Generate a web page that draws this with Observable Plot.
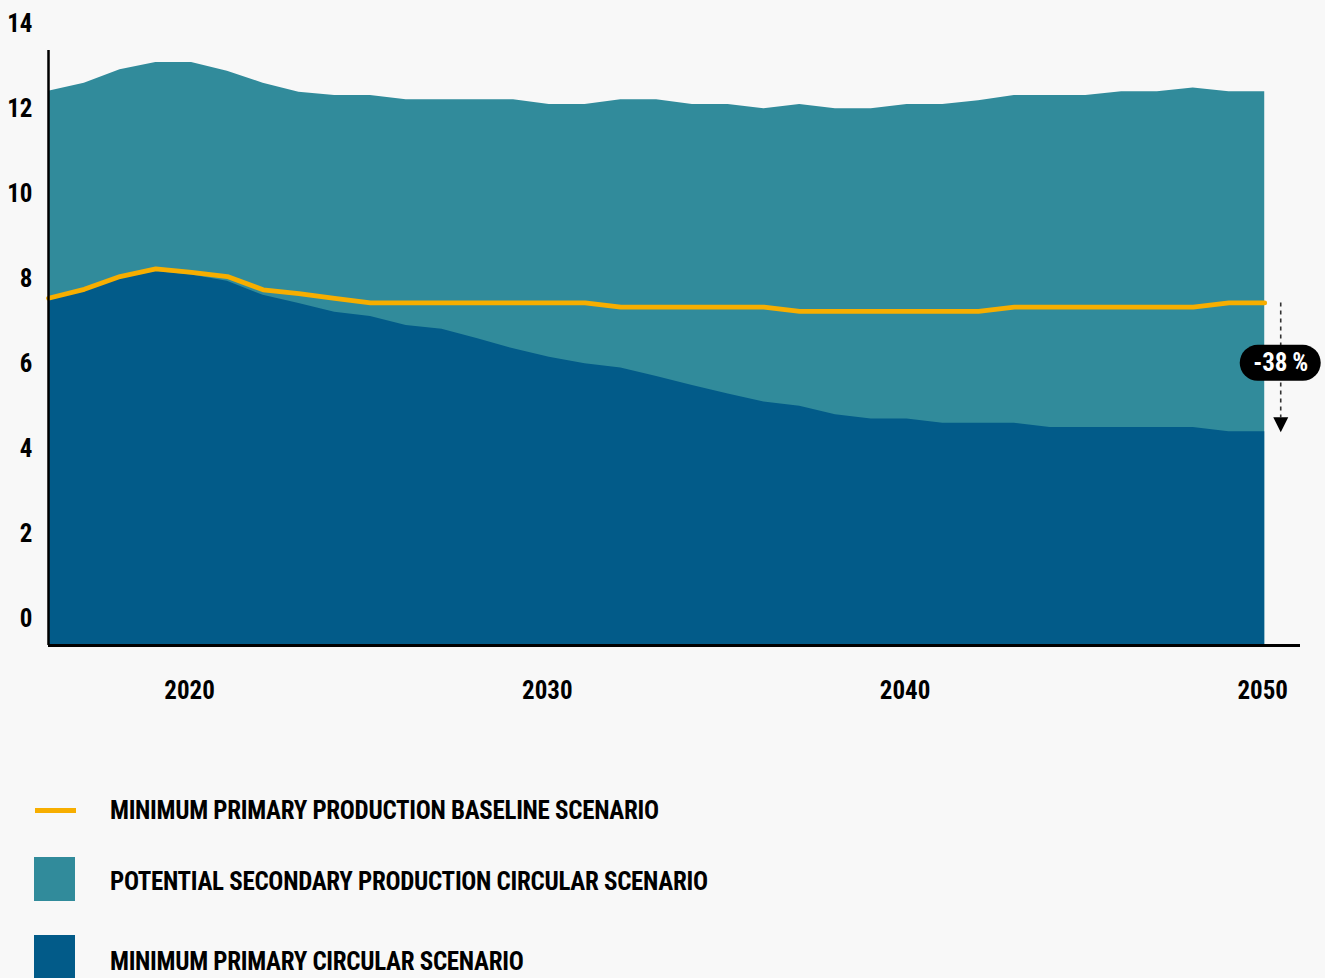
<!DOCTYPE html>
<html>
<head>
<meta charset="utf-8">
<script src="https://cdn.jsdelivr.net/npm/d3@7"></script>
<script src="https://cdn.jsdelivr.net/npm/@observablehq/plot@0.6"></script>
<style>
  html, body { margin: 0; padding: 0; background: #f8f8f8; }
  body { width: 1325px; height: 978px; overflow: hidden; position: relative;
         font-family: "Roboto Condensed", "Liberation Sans Narrow", "Arial Narrow", "DejaVu Sans Condensed", sans-serif;
         font-stretch: condensed; }
  #chart { position: absolute; left: 0; top: 0; }
  .sw { position: absolute; }
  .lt { position: absolute; left: 110px; font-size: 25px; font-weight: bold; color: #000; white-space: nowrap; line-height: 1; letter-spacing: -0.3px; }
</style>
</head>
<body>
<div id="chart"></div>
<div id="legend"></div>
<script>
const years = [2016,2017,2018,2019,2020,2021,2022,2023,2024,2025,2026,2027,2028,2029,2030,2031,2032,2033,2034,2035,2036,2037,2038,2039,2040,2041,2042,2043,2044,2045,2046,2047,2048,2049,2050];
// Top of teal area: primary + potential secondary production (circular scenario)
const totalCircular = [13.04,13.23,13.55,13.72,13.72,13.51,13.23,13.02,12.94,12.94,12.84,12.84,12.84,12.84,12.73,12.73,12.84,12.84,12.73,12.73,12.63,12.73,12.63,12.63,12.73,12.73,12.82,12.94,12.94,12.94,13.03,13.03,13.12,13.03,13.03];
// Minimum primary production, circular scenario (dark area)
const primaryCircular = [8.12,8.33,8.63,8.80,8.72,8.57,8.24,8.05,7.84,7.74,7.53,7.44,7.22,6.98,6.78,6.63,6.53,6.33,6.12,5.92,5.73,5.63,5.43,5.33,5.33,5.23,5.23,5.23,5.13,5.13,5.13,5.13,5.13,5.03,5.03];
// Minimum primary production, baseline scenario (yellow line)
const primaryBaseline = [8.17,8.38,8.68,8.86,8.78,8.68,8.37,8.28,8.17,8.06,8.06,8.06,8.06,8.06,8.06,8.06,7.96,7.96,7.96,7.96,7.96,7.86,7.86,7.86,7.86,7.86,7.86,7.96,7.96,7.96,7.96,7.96,7.96,8.06,8.06];
const yTicks = [0,2,4,6,8,10,12,14];
const xTicks = [2020,2030,2040,2050];
const legendLabels = ["MINIMUM PRIMARY PRODUCTION BASELINE SCENARIO","POTENTIAL SECONDARY PRODUCTION CIRCULAR SCENARIO","MINIMUM PRIMARY CIRCULAR SCENARIO"];
const annotationLabel = "-38\u2009%";

const COL_TEAL = "#318b9b", COL_DARK = "#025b89", COL_YEL = "#f7ae00";
const FONT = '"Roboto Condensed", "Liberation Sans Narrow", "Arial Narrow", "DejaVu Sans Condensed", sans-serif';

const rows = years.map((year, i) => ({year, total: totalCircular[i], primary: primaryCircular[i], baseline: primaryBaseline[i]}));
const last = rows[rows.length - 1];
const annot = [{year: last.year, from: last.baseline, to: last.primary, mid: (last.baseline + last.primary) / 2, label: annotationLabel}];

const downTri = { draw(ctx, size) { const s = Math.sqrt(size / Math.PI); ctx.moveTo(-s, -s); ctx.lineTo(s, -s); ctx.lineTo(0, s); ctx.closePath(); } };

const plot = Plot.plot({
  width: 1325, height: 730,
  marginLeft: 48, marginRight: 25, marginTop: 50, marginBottom: 85,
  x: {domain: [2016, 2051], label: null},
  y: {domain: [0, 14], label: null},
  style: {background: "transparent", fontFamily: FONT, fontSize: "25px", fontWeight: "bold", color: "#000", fontStretch: "condensed"},
  marks: [
    Plot.areaY(rows, {x: "year", y: "total", fill: COL_TEAL}),
    Plot.areaY(rows, {x: "year", y: "primary", fill: COL_DARK}),
    Plot.line(rows, {x: "year", y: "baseline", stroke: COL_YEL, strokeWidth: 4.8}),
    Plot.ruleX([2016], {y1: 0, y2: 14, stroke: "#000", strokeWidth: 2.5}),
    Plot.ruleY([0], {x1: 2016, x2: 2051, stroke: "#000", strokeWidth: 3}),
    Plot.axisY(yTicks, {tickSize: 0, tickPadding: 16, dy: -27, label: null, tickFormat: d => String(d), fontSize: 25, fontWeight: "bold"}),
    Plot.axisX(xTicks, {tickSize: 0, tickPadding: 36, dx: -2, label: null, tickFormat: d => String(d), fontSize: 25, fontWeight: "bold"}),
    Plot.ruleX(annot, {x: "year", y1: "from", y2: "to", dx: 16, insetBottom: 14, stroke: "#333", strokeWidth: 1.6, strokeDasharray: "4,4"}),
    Plot.dot(annot, {x: "year", y: "to", dx: 16, dy: -7, r: 7.5, symbol: downTri, fill: "#000", stroke: null}),
    Plot.rect(annot, {x1: "year", x2: "year", y1: "mid", y2: "mid", dx: 16, dy: -4, insetLeft: -40.5, insetRight: -40.5, insetTop: -18, insetBottom: -18, rx: 18, fill: "#000"}),
    Plot.text(annot, {x: "year", y: "mid", dx: 16, dy: -4, text: "label", fill: "#fff", fontSize: 25, fontWeight: "bold"})
  ]
});
document.getElementById("chart").appendChild(plot);

// Legend (HTML, below the SVG)
const legend = document.getElementById("legend");
const legendItems = [
  {label: legendLabels[0], kind: "line", color: COL_YEL, top: 808, h: 5, textTop: 810},
  {label: legendLabels[1], kind: "box", color: COL_TEAL, top: 857, h: 44, textTop: 881},
  {label: legendLabels[2], kind: "box", color: COL_DARK, top: 935, h: 44, textTop: 961}
];
legendItems.forEach(it => {
  const sw = document.createElement("div");
  sw.className = "sw";
  sw.style.top = it.top + "px";
  sw.style.height = it.h + "px";
  sw.style.width = "41px";
  sw.style.left = it.kind === "line" ? "35px" : "34px";
  sw.style.background = it.color;
  legend.appendChild(sw);
  const t = document.createElement("div");
  t.className = "lt";
  t.textContent = it.label;
  t.style.top = (it.textTop - 12) + "px";
  legend.appendChild(t);
});
</script>
</body>
</html>
